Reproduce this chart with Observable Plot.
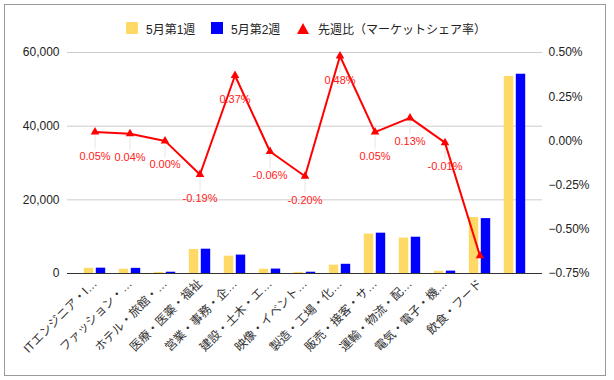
<!DOCTYPE html>
<html><head><meta charset="utf-8">
<script src="https://cdn.jsdelivr.net/npm/d3@7"></script>
<script src="https://cdn.jsdelivr.net/npm/@observablehq/plot@0.6"></script>
<style>
body{margin:0;background:#fff;font-family:"Liberation Sans",Arial,"Noto Sans CJK JP",sans-serif;}
#wrap{position:relative;width:614px;height:380px;overflow:hidden;}
#frame{position:absolute;left:4px;top:4px;width:600px;height:370px;border:1px solid #9a9a9a;pointer-events:none;}
#legend{position:relative;height:44px;}
.item{position:absolute;top:22px;height:12px;display:flex;align-items:center;font-size:12px;color:#222;white-space:nowrap;}
.sw{width:12px;height:12px;margin-right:8px;}
.tri{width:0;height:0;border-left:6px solid transparent;border-right:6px solid transparent;border-bottom:11px solid #ff0000;margin-right:9px;}
</style></head>
<body>
<div id="wrap">
<div id="legend"></div>
<div id="chart"></div>
<div id="frame"></div>
</div>
<script>
const categories = ["ITエンジニア・I…","ファッション・…","ホテル・旅館・…","医療・医薬・福祉","営業・事務・企…","建設・土木・エ…","映像・イベント…","製造・工場・化…","販売・接客・サ…","運輸・物流・配…","電気・電子・機…","飲食・フード",""];
const week1 = [1400,1150,300,6500,4700,1150,300,2250,10700,9600,600,15200,53500];
const week2 = [1450,1400,350,6600,5000,1200,350,2500,10950,9850,650,14900,54100];
const shareChange = [0.05,0.04,0.00,-0.19,0.37,-0.06,-0.20,0.48,0.05,0.13,-0.01,-0.65];
const shareLabels = ["0.05%","0.04%","0.00%","-0.19%","0.37%","-0.06%","-0.20%","0.48%","0.05%","0.13%","-0.01%",""];
const leftTicks = [0,20000,40000,60000];
const rightTicks = [-0.75,-0.5,-0.25,0,0.25,0.5];
const seriesNames = ["5月第1週","5月第2週","先週比（マーケットシェア率）"];
const colors = ["#ffd966","#0000ff","#ff0000"];

// legend
const legend = document.getElementById("legend");
const legendX = [126,211,297];
seriesNames.forEach((n,i)=>{
  const d = document.createElement("div");
  d.className="item"; d.style.left=legendX[i]+"px";
  const s = document.createElement("div");
  if(i<2){s.className="sw"; s.style.background=colors[i];} else {s.className="tri";}
  d.appendChild(s);
  const t=document.createElement("span"); t.textContent=n; d.appendChild(t);
  legend.appendChild(d);
});

// right axis mapping into left domain
const pctToLeft = d3.scaleLinear().domain([-0.75,0.5]).range([0,60000]);
const bars = categories.map((c,i)=>({c,w1:week1[i],w2:week2[i]}));
const line = shareChange.map((v,i)=>({c:categories[i],v:pctToLeft(v),label:shareLabels[i]}));

const chart = Plot.plot({
  width:614, height:336,
  marginLeft:67, marginRight:72, marginTop:8, marginBottom:107,
  style:{fontFamily:'"Liberation Sans",Arial,"Noto Sans CJK JP",sans-serif',fontSize:"12px",color:"#222",background:"transparent"},
  x:{type:"band",domain:categories,padding:0,inset:5.5,label:null},
  y:{domain:[0,60000],label:null},
  marks:[
    Plot.ruleY(leftTicks.slice(1),{stroke:"#cccccc"}),
    Plot.barY(bars,{x:"c",y:"w1",fill:colors[0],insetLeft:6.8,insetRight:18.8}),
    Plot.barY(bars,{x:"c",y:"w2",fill:colors[1],insetLeft:18.8,insetRight:6.8}),
    Plot.ruleY([0],{stroke:"#333333"}),
    Plot.axisY(leftTicks,{anchor:"left",tickSize:0,tickPadding:8,tickFormat:d3.format(","),fill:"#222",fontSize:12}),
    Plot.axisY(rightTicks.map(pctToLeft),{anchor:"right",tickSize:0,tickPadding:6,tickFormat:d=>d3.format(".2f")(pctToLeft.invert(d))+"%",fill:"#222",fontSize:12}),
    Plot.axisX({tickSize:0,tickRotate:-45,tickPadding:8,fill:"#333",fontSize:12}),
    Plot.ruleX(line.filter(d=>d.label),{x:"c",y1:"v",y2:"v",insetTop:3,insetBottom:-17,stroke:"#e6e6e6"}),
    Plot.line(line,{x:"c",y:"v",stroke:colors[2],strokeWidth:2}),
    Plot.dot(line,{x:"c",y:"v",symbol:"triangle",r:3.2,fill:colors[2],stroke:null}),
    Plot.text(line,{x:"c",y:"v",text:"label",dy:24,fill:"#ff2020",fontSize:11})
  ]
});
document.getElementById("chart").appendChild(chart);
</script>
</body></html>
